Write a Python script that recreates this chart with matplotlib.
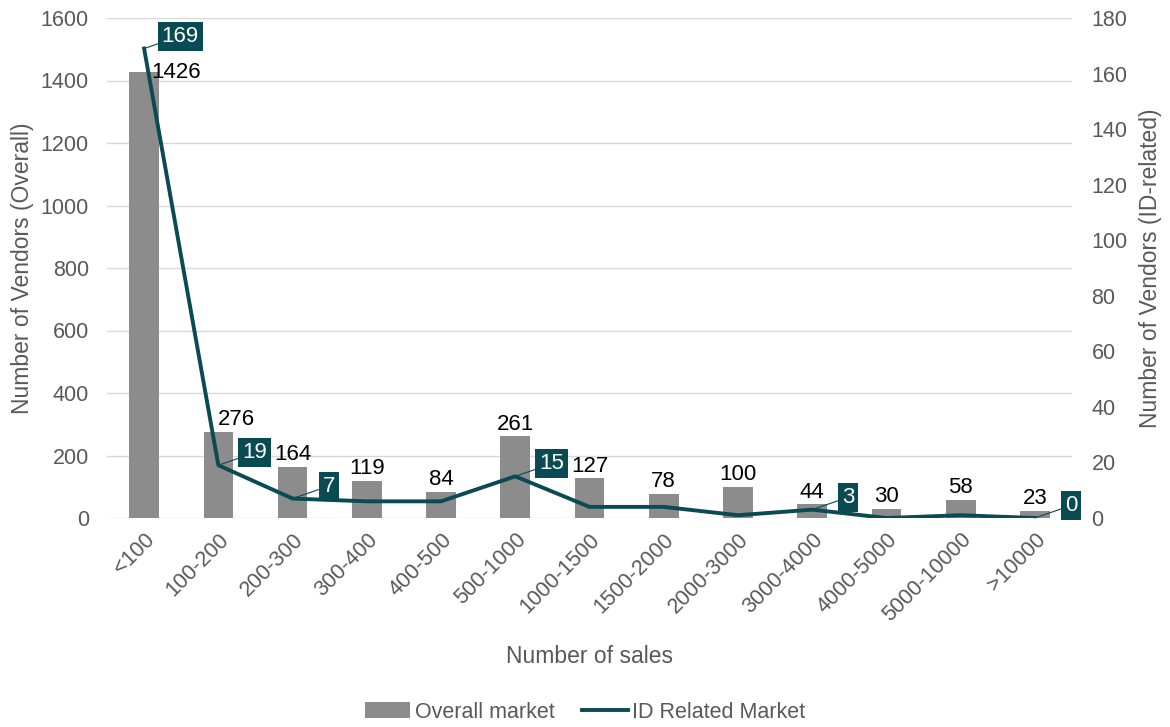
import matplotlib.pyplot as plt
import numpy as np

plt.rcParams['font.family'] = ['Liberation Sans', 'DejaVu Sans']

# Data
categories = ['<100', '100-200', '200-300', '300-400', '400-500', '500-1000', '1000-1500',
              '1500-2000', '2000-3000', '3000-4000', '4000-5000', '5000-10000', '>10000']
overall = [1426, 276, 164, 119, 84, 261, 127, 78, 100, 44, 30, 58, 23]
id_related = [169, 19, 7, 6, 6, 15, 4, 4, 1, 3, 0, 1, 0]
id_labelled = [0, 1, 2, 5, 9, 12]  # points that carry a value box

bar_color = '#8c8c8c'
line_color = '#0a4a52'
tick_color = '#595959'

fig = plt.figure(figsize=(11.7, 7.27), dpi=100)
ax = fig.add_axes([107 / 1170, 1 - 518 / 727, (1072 - 107) / 1170, 500 / 727])
ax2 = ax.twinx()

x = np.arange(len(categories))
bars = ax.bar(x, overall, width=0.4, color=bar_color, zorder=2, label='Overall market')
line, = ax2.plot(x, id_related, color=line_color, lw=2.8, zorder=3, label='ID Related Market')

ax.set_xlim(-0.5, len(categories) - 0.5)
ax.set_ylim(0, 1600)
ax2.set_ylim(0, 180)
ax.set_yticks(np.arange(0, 1601, 200))
ax2.set_yticks(np.arange(0, 181, 20))
ax.yaxis.grid(True, color='#d9d9d9', lw=1, zorder=0)
ax.set_axisbelow(True)

for a in (ax, ax2):
    for s in a.spines.values():
        s.set_visible(False)
    a.tick_params(length=0, labelsize=15.5, labelcolor=tick_color)
ax.tick_params(axis='y', pad=13)
ax2.tick_params(axis='y', pad=14)

ax.set_xticks(x)
ax.set_xticklabels(categories, rotation=45, ha='right', rotation_mode='anchor')
ax.tick_params(axis='x', pad=8)

ax.set_xlabel('Number of sales', fontsize=16.5, color=tick_color, labelpad=14)
ax.set_ylabel('Number of Vendors (Overall)', fontsize=16.5, color=tick_color)
ax2.set_ylabel('Number of Vendors (ID-related)', fontsize=16.5, color=tick_color)
for a, xpos in ((ax, -0.088), (ax2, 1.081)):
    a.yaxis.label.set(ha='center', va='center', rotation_mode='default')
    a.yaxis.set_label_coords(xpos, 0.5)

# bar value labels
for i, v in enumerate(overall):
    if i == 0:
        ax.annotate(str(v), (i, v), xytext=(5, 0), textcoords='offset points',
                    ha='left', va='center', fontsize=16, color='black')
    elif i == 1:
        ax.annotate(str(v), (i, v), xytext=(13, 1), textcoords='offset points',
                    ha='center', va='bottom', fontsize=16, color='black')
    else:
        ax.annotate(str(v), (i, v), xytext=(0, 1), textcoords='offset points',
                    ha='center', va='bottom', fontsize=16, color='black')

# line value boxes with leader lines
for i in id_labelled:
    v = id_related[i]
    ax2.annotate(str(v), (i, v), xytext=(26, 9), textcoords='offset points',
                 ha='center', va='center', fontsize=16, color='white', zorder=5,
                 bbox=dict(boxstyle='square,pad=0.18', fc=line_color, ec='none'),
                 arrowprops=dict(arrowstyle='-', color=line_color, lw=0.8,
                                 shrinkA=0, shrinkB=0))

fig.legend(handles=[bars, line], labels=['Overall market', 'ID Related Market'],
           loc='center', bbox_to_anchor=(0.5, 1 - 712 / 727), ncol=2, frameon=False,
           fontsize=15.5, labelcolor=tick_color, handlelength=2.1, columnspacing=1.3,
           handletextpad=0.2)

fig.savefig('out.png', dpi=100)
